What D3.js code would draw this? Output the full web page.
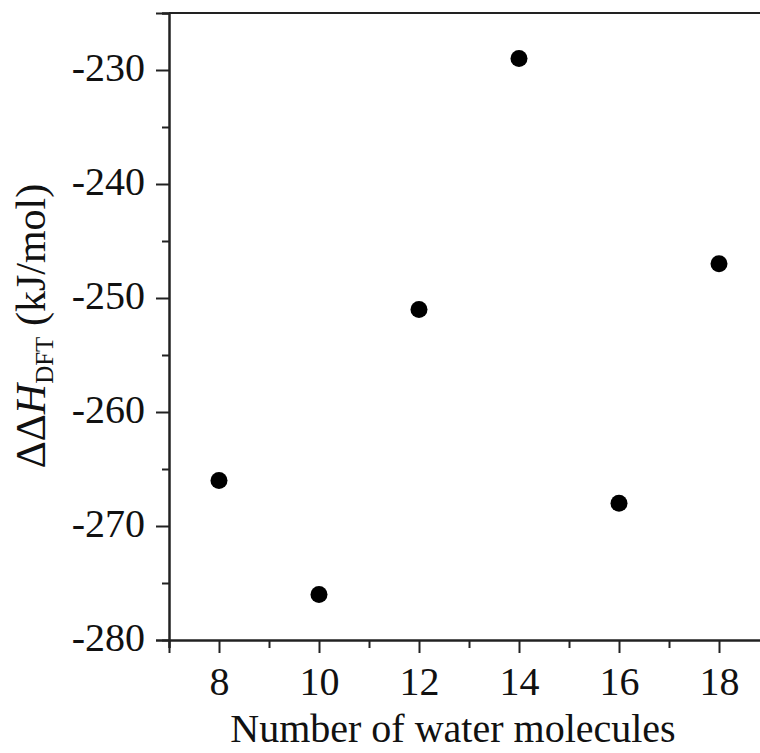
<!DOCTYPE html>
<html>
<head>
<meta charset="utf-8">
<script src="https://cdn.jsdelivr.net/npm/d3@7"></script>
<style>
  html, body { margin: 0; padding: 0; background: #fff; }
  svg { display: block; }
  text { font-family: "Liberation Serif", "Times New Roman", serif; fill: #111; }
</style>
</head>
<body>
<svg id="chart" width="760" height="753"></svg>
<script>
// Reaction enthalpy vs. cluster size
const waterMolecules = [8, 10, 12, 14, 16, 18];
const deltaDeltaH = [-266, -276, -251, -229, -268, -247];
const xTickValues = [8, 10, 12, 14, 16, 18];
const yTickValues = [-280, -270, -260, -250, -240, -230];

const W = 760, H = 753;
const plot = { left: 169, right: 769, top: 13, bottom: 640 };

const svg = d3.select("#chart");

const x = d3.scaleLinear().domain([7, 19]).range([plot.left, plot.right]);
const y = d3.scaleLinear().domain([-280, -225]).range([plot.bottom, plot.top]);

const axisColor = "#222";

// Frame (top and right edges)
svg.append("path")
  .attr("d", `M${plot.left},${plot.top}H${plot.right}V${plot.bottom}`)
  .attr("fill", "none").attr("stroke", axisColor).attr("stroke-width", 2);

// Bottom axis: major and minor ticks
const xMinor = d3.range(7, 19.01, 1).filter(v => !xTickValues.includes(v));
const gxMinor = svg.append("g").attr("transform", `translate(0,${plot.bottom})`)
  .call(d3.axisBottom(x).tickValues(xMinor).tickSize(8).tickFormat(""));
const gx = svg.append("g").attr("transform", `translate(0,${plot.bottom})`)
  .call(d3.axisBottom(x).tickValues(xTickValues).tickSize(13).tickPadding(14).tickFormat(d3.format("d")));

// Left axis: major and minor ticks
const yMinor = d3.range(-275, -224, 10);
const gyMinor = svg.append("g").attr("transform", `translate(${plot.left},0)`)
  .call(d3.axisLeft(y).tickValues(yMinor).tickSize(7).tickFormat(""));
const gy = svg.append("g").attr("transform", `translate(${plot.left},0)`)
  .call(d3.axisLeft(y).tickValues(yTickValues).tickSize(13).tickPadding(11)
    .tickFormat(d => String(d).replace("\u2212", "-")));

[gx, gy, gxMinor, gyMinor].forEach(g => {
  g.selectAll(".domain").attr("stroke", axisColor).attr("stroke-width", 2);
  g.selectAll(".tick line").attr("stroke", axisColor).attr("stroke-width", 2);
  g.selectAll("text")
    .attr("font-family", "'Liberation Serif', 'Times New Roman', serif")
    .attr("font-size", 40).attr("fill", "#111");
});
gy.selectAll("text").attr("dy", "0.25em");

// Data points
svg.append("g").selectAll("circle")
  .data(waterMolecules.map((n, i) => ({ n, v: deltaDeltaH[i] })))
  .join("circle")
  .attr("cx", d => x(d.n))
  .attr("cy", d => y(d.v))
  .attr("r", 8.5)
  .attr("fill", "#000");

// Axis titles
svg.append("text")
  .attr("x", 453).attr("y", 742)
  .attr("text-anchor", "middle")
  .attr("font-size", 40)
  .text("Number of water molecules");

const yTitle = svg.append("text")
  .attr("transform", `translate(45,326) rotate(-90)`)
  .attr("text-anchor", "middle")
  .attr("font-size", 42);
yTitle.append("tspan").text("\u0394\u0394");
yTitle.append("tspan").attr("font-style", "italic").text("H");
yTitle.append("tspan").attr("font-size", 25).attr("dy", 8).text("DFT");
yTitle.append("tspan").attr("dy", -8).text(" (kJ/mol)");
</script>
</body>
</html>
